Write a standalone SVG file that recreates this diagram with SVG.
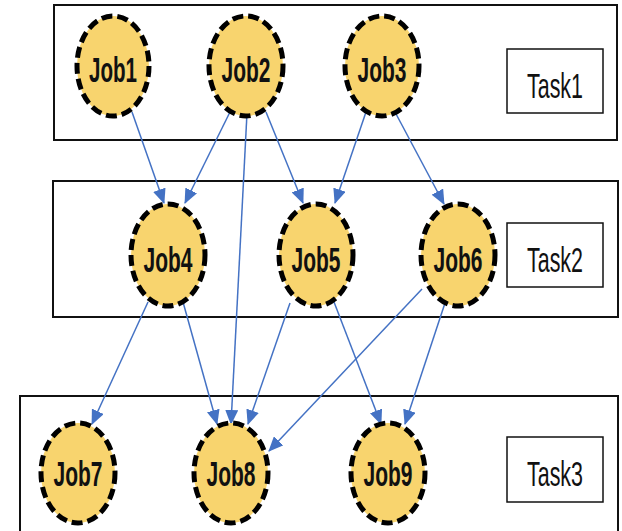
<svg xmlns="http://www.w3.org/2000/svg" width="622" height="531" viewBox="0 0 622 531">
<style>
.task{fill:#fff;stroke:#111;stroke-width:2}
.lbl{fill:#fff;stroke:#111;stroke-width:1.5}
.job{fill:#F8D46E;stroke:#000;stroke-width:5;stroke-dasharray:11 5}
.jt{font-family:"Liberation Sans",Arial,sans-serif;font-weight:bold;font-size:35px;fill:#111;text-anchor:middle}
.tt{font-family:"Liberation Sans",Arial,sans-serif;font-size:35px;fill:#111;text-anchor:middle}
.edge{stroke:#4472C4;stroke-width:1.5;fill:none;marker-end:url(#arr)}
</style>
<defs>
<marker id="arr" markerUnits="userSpaceOnUse" markerWidth="15" markerHeight="13" refX="14" refY="6.5" orient="auto" viewBox="0 0 15 13">
<path d="M0,0 L15,6.5 L0,13 z" fill="#4472C4"/>
</marker>
</defs>
<rect width="622" height="531" fill="#fff"/>
<g id="task1">
<rect class="task" x="54" y="5" width="563" height="135"/>
<rect class="lbl" x="507" y="49" width="96" height="64"/>
<text class="tt" x="555" y="98" textLength="56" lengthAdjust="spacingAndGlyphs">Task1</text>
</g>
<g id="task2">
<rect class="task" x="53" y="181" width="565" height="136"/>
<rect class="lbl" x="507" y="223" width="96" height="64"/>
<text class="tt" x="555" y="272" textLength="56" lengthAdjust="spacingAndGlyphs">Task2</text>
</g>
<g id="task3">
<rect class="task" x="20" y="396" width="598" height="145"/>
<rect class="lbl" x="507" y="437" width="96" height="65"/>
<text class="tt" x="555" y="486" textLength="56" lengthAdjust="spacingAndGlyphs">Task3</text>
</g>
<g id="connectors">
<line class="edge" x1="132" y1="112" x2="164" y2="203"/>
<line class="edge" x1="230" y1="112" x2="185" y2="203"/>
<line class="edge" x1="247" y1="113" x2="231" y2="424"/>
<line class="edge" x1="266" y1="112" x2="303" y2="203"/>
<line class="edge" x1="366" y1="112" x2="335" y2="203"/>
<line class="edge" x1="395" y1="112" x2="444" y2="204"/>
<line class="edge" x1="148" y1="302" x2="92" y2="424"/>
<line class="edge" x1="183" y1="302" x2="217" y2="424"/>
<line class="edge" x1="290" y1="303" x2="248" y2="424"/>
<line class="edge" x1="334" y1="302" x2="381" y2="424"/>
<line class="edge" x1="422" y1="289" x2="269" y2="451"/>
<line class="edge" x1="445" y1="303" x2="405" y2="424"/>
</g>
<g id="job1"><ellipse class="job" cx="113" cy="66" rx="36" ry="50"/><text class="jt" x="113" y="82" textLength="48" lengthAdjust="spacingAndGlyphs">Job1</text></g>
<g id="job2"><ellipse class="job" cx="246" cy="66" rx="37" ry="50"/><text class="jt" x="246" y="82" textLength="49" lengthAdjust="spacingAndGlyphs">Job2</text></g>
<g id="job3"><ellipse class="job" cx="382" cy="66" rx="37" ry="50"/><text class="jt" x="382" y="82" textLength="49" lengthAdjust="spacingAndGlyphs">Job3</text></g>
<g id="job4"><ellipse class="job" cx="168" cy="255" rx="37" ry="51"/><text class="jt" x="168" y="272" textLength="49" lengthAdjust="spacingAndGlyphs">Job4</text></g>
<g id="job5"><ellipse class="job" cx="316" cy="255" rx="37" ry="51"/><text class="jt" x="316" y="272" textLength="49" lengthAdjust="spacingAndGlyphs">Job5</text></g>
<g id="job6"><ellipse class="job" cx="458" cy="255" rx="37" ry="51"/><text class="jt" x="458" y="272" textLength="49" lengthAdjust="spacingAndGlyphs">Job6</text></g>
<g id="job7"><ellipse class="job" cx="78" cy="473" rx="37" ry="50"/><text class="jt" x="78" y="486" textLength="49" lengthAdjust="spacingAndGlyphs">Job7</text></g>
<g id="job8"><ellipse class="job" cx="231" cy="473" rx="37" ry="50"/><text class="jt" x="231" y="486" textLength="49" lengthAdjust="spacingAndGlyphs">Job8</text></g>
<g id="job9"><ellipse class="job" cx="388" cy="473" rx="37" ry="50"/><text class="jt" x="388" y="486" textLength="49" lengthAdjust="spacingAndGlyphs">Job9</text></g>
</svg>
